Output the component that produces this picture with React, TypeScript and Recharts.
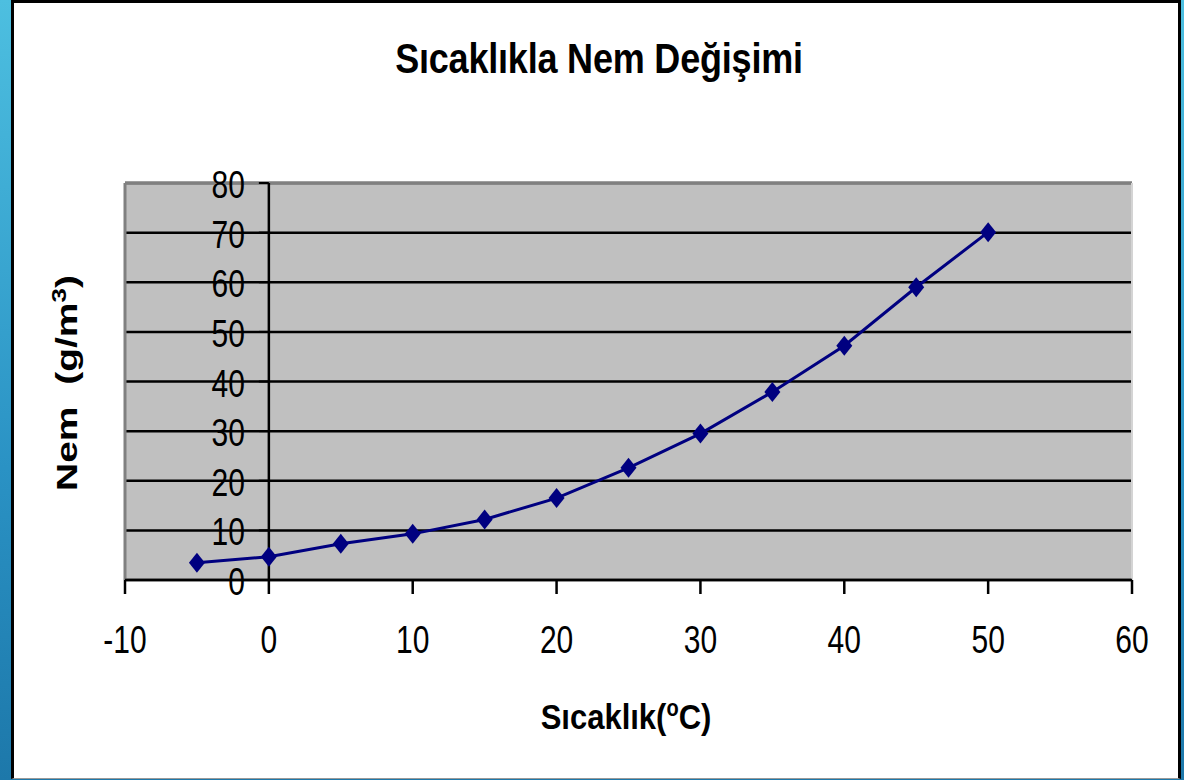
import React from "react"
import {
  LineChart,
  Line,
  XAxis,
  YAxis,
  CartesianGrid,
  ReferenceLine,
} from "recharts"

// sıcaklık (°C) ve nem (g/m3) değerleri
const sicaklik = [-5, 0, 5, 10, 15, 20, 25, 30, 35, 40, 45, 50]
const nem = [3.5, 4.7, 7.3, 9.3, 12.2, 16.5, 22.6, 29.5, 37.9, 47.2, 59.0, 70.1]
const xTicks = [-10, 0, 10, 20, 30, 40, 50, 60]
const yTicks = [0, 10, 20, 30, 40, 50, 60, 70, 80]

const X_MIN = -10
const X_MAX = 60
const W = 1184
const H = 780
const PLOT = { left: 125, top: 183, right: 1132, bottom: 580 }
const Y_AXIS_W = 60
const X_AXIS_H = 30
const FONT = '"Liberation Sans", Arial, sans-serif'
const STRETCH = 1.3

const data = sicaklik.map((t, i) => ({ t, nem: nem[i] }))

// y ekseni x=0 noktasında duruyor
const axisX =
  PLOT.left + ((0 - X_MIN) / (X_MAX - X_MIN)) * (PLOT.right - PLOT.left)

function YTick(props: any) {
  const { y, payload } = props
  return (
    <g>
      <line x1={axisX - 10} x2={axisX} y1={y} y2={y} stroke="#000" strokeWidth={2} />
      <text
        transform={`translate(${axisX - 24},${y + 15}) scale(1,${STRETCH})`}
        textAnchor="end"
        fontFamily={FONT}
        fontSize={30}
        fill="#000"
      >
        {payload.value}
      </text>
    </g>
  )
}

function XTick(props: any) {
  const { x, payload } = props
  return (
    <text
      transform={`translate(${x},${PLOT.bottom + 73}) scale(1,${STRETCH})`}
      textAnchor="middle"
      fontFamily={FONT}
      fontSize={30}
      fill="#000"
    >
      {payload.value}
    </text>
  )
}

function Diamond(props: any) {
  const { cx, cy } = props
  if (cx == null || cy == null) return null
  return (
    <polygon
      points={`${cx},${cy - 10} ${cx + 8},${cy} ${cx},${cy + 10} ${cx - 8},${cy}`}
      fill="#000080"
    />
  )
}

export default function App() {
  return (
    <div
      style={{
        position: "absolute",
        left: 0,
        top: 0,
        width: W,
        height: H,
        background: "linear-gradient(180deg, #4dbfe0 0%, #2a92c4 60%, #1d78aa 100%)",
        overflow: "hidden",
      }}
    >
      <div
        style={{
          position: "absolute",
          left: 11,
          top: 0,
          width: 1170,
          height: 779,
          boxSizing: "border-box",
          background: "#fff",
          borderTop: "3px solid #000",
          borderLeft: "3px solid #000",
          borderRight: "3px solid #000",
          borderBottom: "1px solid #999",
        }}
      />
      <div
        style={{
          position: "absolute",
          left: 0,
          width: W,
          top: 38,
          textAlign: "center",
          fontFamily: FONT,
          fontWeight: "bold",
          fontSize: 36,
          color: "#000",
        }}
      >
        <span
          style={{
            display: "inline-block",
            transform: `scale(1,1.18)`,
            marginLeft: 14,
            letterSpacing: -0.2,
          }}
        >
          Sıcaklıkla Nem Değişimi
        </span>
      </div>
      <div style={{ position: "absolute", left: 0, top: 0 }}>
        <LineChart
          width={W}
          height={H}
          data={data}
          margin={{
            top: PLOT.top,
            right: W - PLOT.right,
            bottom: H - PLOT.bottom - X_AXIS_H,
            left: PLOT.left - Y_AXIS_W,
          }}
        >
          <CartesianGrid
            vertical={false}
            fill="#C0C0C0"
            fillOpacity={1}
            stroke="#000"
            strokeWidth={2.5}
          />
          <ReferenceLine y={80} stroke="#808080" strokeWidth={3} />
          <ReferenceLine x={-10} stroke="#808080" strokeWidth={3} />
          <ReferenceLine x={60} stroke="#d4d4d4" strokeWidth={2} />
          <ReferenceLine x={0} stroke="#000" strokeWidth={2.5} />
          <XAxis
            dataKey="t"
            type="number"
            domain={[X_MIN, X_MAX]}
            ticks={xTicks}
            height={X_AXIS_H}
            axisLine={{ stroke: "#000", strokeWidth: 2.5 }}
            tickLine={{ stroke: "#000", strokeWidth: 2.5 }}
            tickSize={14}
            tick={<XTick />}
            interval={0}
          />
          <YAxis
            type="number"
            domain={[0, 80]}
            ticks={yTicks}
            width={Y_AXIS_W}
            axisLine={false}
            tickLine={false}
            tick={<YTick />}
            interval={0}
          />
          <Line
            dataKey="nem"
            stroke="#000080"
            strokeWidth={3}
            dot={<Diamond />}
            activeDot={false}
            isAnimationActive={false}
          />
        </LineChart>
      </div>
      <div
        style={{
          position: "absolute",
          left: 66,
          top: 383,
          transform: `translate(-50%,-50%) rotate(-90deg) scale(${STRETCH},1)`,
          fontFamily: FONT,
          fontWeight: "bold",
          fontSize: 30,
          whiteSpace: "nowrap",
          color: "#000",
        }}
      >
        Nem&nbsp; (g/m<sup style={{ fontSize: 20 }}>3</sup>)
      </div>
      <div
        style={{
          position: "absolute",
          left: 626,
          top: 717,
          transform: `translate(-50%,-50%) scale(1,1.15)`,
          fontFamily: FONT,
          fontWeight: "bold",
          fontSize: 31,
          whiteSpace: "nowrap",
          color: "#000",
        }}
      >
        Sıcaklık(<sup style={{ fontSize: 20 }}>o</sup>C)
      </div>
    </div>
  )
}
